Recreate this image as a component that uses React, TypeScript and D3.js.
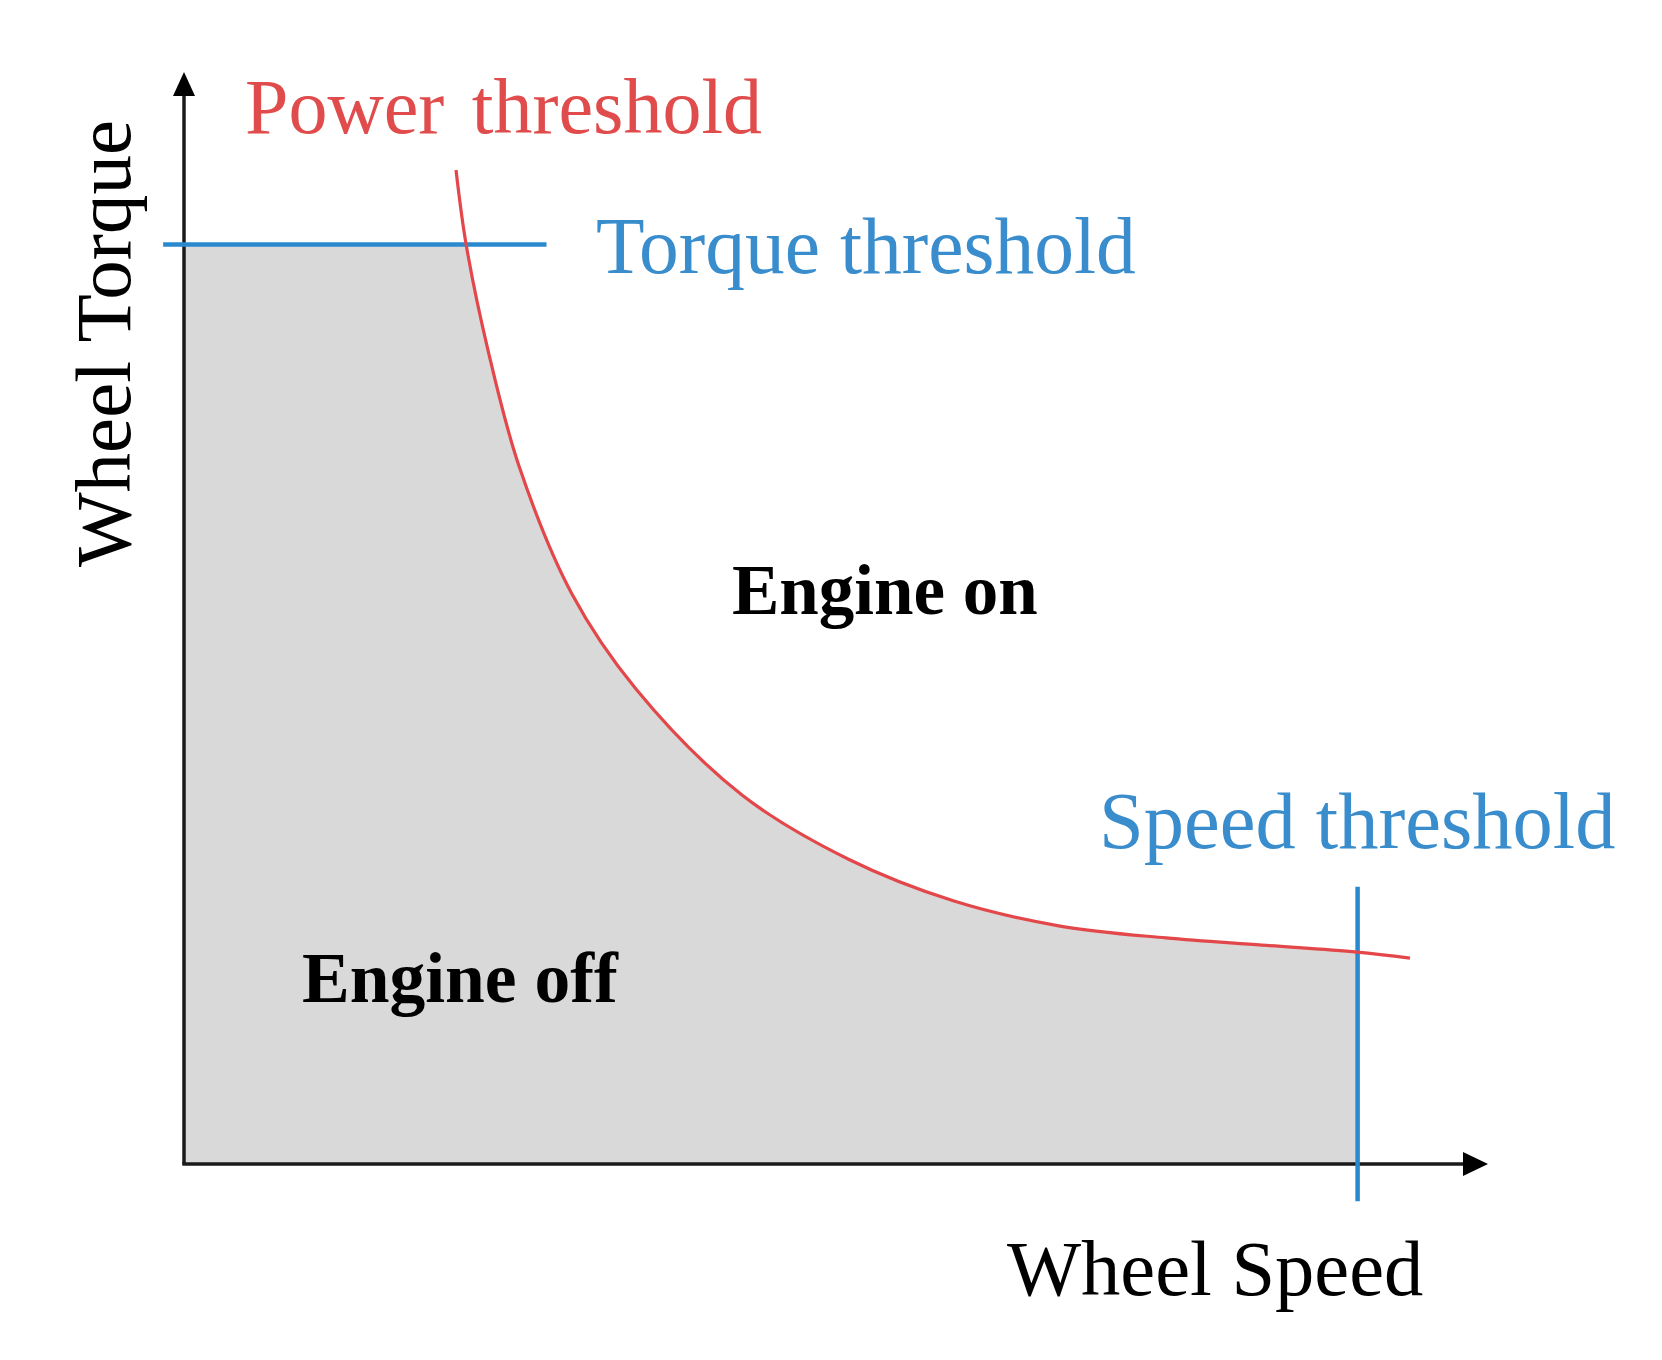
import React from "react";
import * as d3 from "d3";

// Power threshold curve (wheel speed vs wheel torque, arbitrary units 0-100)
const powerSpeed = [20.86, 21.63, 23.31, 25.69, 29.75, 34.66, 42.79, 50.92, 59.05, 67.18, 75.31, 82.67, 89.95, 94.02];
const powerTorque = [91.03, 84.25, 74.54, 63.92, 52.2, 43.5, 33.79, 27.93, 24.08, 21.79, 20.7, 20.05, 19.41, 18.86];

const torqueThreshold = 84.2;
const torqueLineSpan = [-1.6, 27.8];
const speedThreshold = 90.0;
const speedLineSpan = [-3.4, 25.4];

const labels = {
  power: "Power threshold",
  torque: "Torque threshold",
  speed: "Speed threshold",
  xAxis: "Wheel Speed",
  yAxis: "Wheel Torque",
  on: "Engine on",
  off: "Engine off",
};

const W = 1662;
const H = 1360;

export default function App() {
  const x = d3.scaleLinear().domain([0, 100]).range([184, 1488]);
  const y = d3.scaleLinear().domain([0, 100]).range([1164, 72]);

  const pts: [number, number][] = powerSpeed.map((s, i) => [s, powerTorque[i]]);
  const curve = d3.curveCatmullRom.alpha(0.5);
  const line = d3
    .line<[number, number]>()
    .x((d) => x(d[0]))
    .y((d) => y(d[1]))
    .curve(curve);
  const area = d3
    .area<[number, number]>()
    .x((d) => x(d[0]))
    .y0(y(0))
    .y1((d) => y(d[1]))
    .curve(curve);

  const serif = "'Liberation Serif', 'Times New Roman', serif";
  const red = "#e4474a";
  const blue = "#2a88cf";
  const textBlue = "#3a8dcc";
  const textRed = "#e04c4c";
  const axisColor = "#1a1a1a";

  const ax0 = x(0);
  const ay0 = y(0);
  const yTop = y(100);
  const xEnd = x(100);

  return (
    <svg
      width={W}
      height={H}
      viewBox={`0 0 ${W} ${H}`}
      style={{ position: "absolute", left: 0, top: 0, background: "#fff" }}
    >
      <defs>
        <clipPath id="offClip">
          <rect
            x={x(0)}
            y={y(torqueThreshold)}
            width={x(speedThreshold) - x(0)}
            height={y(0) - y(torqueThreshold)}
          />
        </clipPath>
      </defs>

      {/* Engine off region */}
      <g clipPath="url(#offClip)">
        <path d={area(pts) || ""} fill="#d9d9d9" />
        <rect
          x={x(0)}
          y={y(100)}
          width={x(powerSpeed[0]) - x(0) + 1}
          height={y(0) - y(100)}
          fill="#d9d9d9"
        />
      </g>

      {/* axes */}
      <line x1={ax0} y1={ay0} x2={ax0} y2={yTop + 20} stroke={axisColor} strokeWidth={3.5} />
      <line x1={ax0 - 1.75} y1={ay0} x2={xEnd - 20} y2={ay0} stroke={axisColor} strokeWidth={3.5} />
      <path d={`M${ax0},${yTop} L${ax0 - 11},${yTop + 24} L${ax0 + 11},${yTop + 24} Z`} fill="#000" />
      <path d={`M${xEnd},${ay0} L${xEnd - 25},${ay0 - 12} L${xEnd - 25},${ay0 + 12} Z`} fill="#000" />

      {/* thresholds */}
      <line
        x1={x(torqueLineSpan[0])}
        x2={x(torqueLineSpan[1])}
        y1={y(torqueThreshold)}
        y2={y(torqueThreshold)}
        stroke={blue}
        strokeWidth={4.5}
      />
      <line
        x1={x(speedThreshold)}
        x2={x(speedThreshold)}
        y1={y(speedLineSpan[0])}
        y2={y(speedLineSpan[1])}
        stroke={blue}
        strokeWidth={4.5}
      />
      <path d={line(pts) || ""} fill="none" stroke={red} strokeWidth={3.2} />

      {/* labels */}
      <text x={245} y={133} fontFamily={serif} fontSize={78} fill={textRed} wordSpacing={8}>
        {labels.power}
      </text>
      <text x={596} y={273} fontFamily={serif} fontSize={79.5} fill={textBlue}>
        {labels.torque}
      </text>
      <text x={1099} y={848} fontFamily={serif} fontSize={80.5} fill={textBlue}>
        {labels.speed}
      </text>
      <text x={1007} y={1295} fontFamily={serif} fontSize={78.5} fill="#000">
        {labels.xAxis}
      </text>
      <text
        transform="translate(130,567) rotate(-90)"
        fontFamily={serif}
        fontSize={79}
        fill="#000"
      >
        {labels.yAxis}
      </text>
      <text x={732} y={614} fontFamily={serif} fontSize={71} fontWeight="bold" fill="#000">
        {labels.on}
      </text>
      <text x={302} y={1002} fontFamily={serif} fontSize={71.5} fontWeight="bold" fill="#000">
        {labels.off}
      </text>
    </svg>
  );
}
